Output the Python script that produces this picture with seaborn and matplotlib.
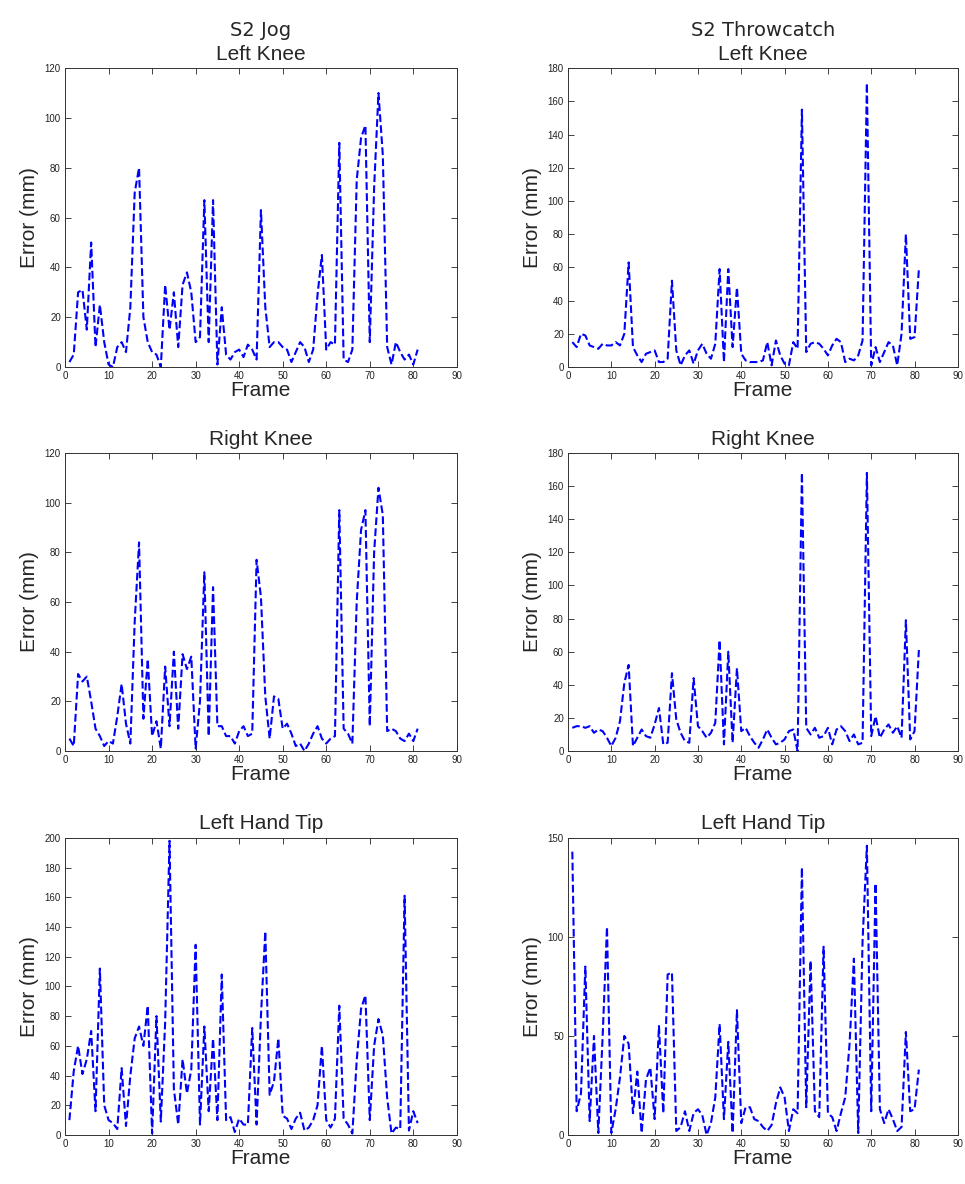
import numpy as np
import pandas as pd
import seaborn as sns
import matplotlib.pyplot as plt

# per-frame joint error (mm), frames 1..81
frames = list(range(1, 82))

jog_left_knee = [2, 5, 30, 31, 15, 50, 8, 25, 10, 1, 0, 8, 10, 6, 24, 70, 80, 20, 10, 6,
                 5, 0, 33, 15, 30, 8, 33, 38, 30, 10, 12, 67, 10, 67, 1, 24, 5, 3, 6, 7,
                 4, 9, 7, 3, 63, 24, 8, 10, 10, 8, 7, 2, 6, 10, 8, 2, 7, 29, 45, 7,
                 10, 9, 90, 3, 2, 7, 75, 92, 97, 10, 72, 110, 85, 8, 1, 10, 6, 3, 5, 1, 7]

throw_left_knee = [15, 12, 20, 19, 13, 12, 11, 14, 13, 13, 15, 13, 20, 63, 12, 7, 3, 8, 9, 10,
                   3, 3, 5, 52, 10, 1, 7, 10, 2, 10, 14, 8, 5, 14, 59, 3, 59, 12, 48, 8,
                   4, 3, 3, 3, 4, 15, 1, 16, 7, 2, 1, 15, 11, 155, 9, 14, 15, 14, 11, 7,
                   13, 17, 15, 3, 5, 4, 7, 16, 171, 1, 12, 3, 9, 15, 13, 1, 20, 80, 17, 18, 59]

jog_right_knee = [5, 2, 31, 28, 30, 20, 9, 6, 2, 4, 3, 14, 27, 11, 3, 52, 84, 13, 37, 6,
                  12, 1, 34, 10, 40, 9, 39, 33, 38, 1, 20, 72, 6, 66, 10, 10, 6, 6, 3, 8,
                  10, 6, 7, 77, 62, 22, 5, 22, 21, 9, 11, 7, 2, 3, 0, 3, 7, 10, 5, 3,
                  5, 6, 97, 9, 7, 3, 60, 89, 97, 10, 80, 106, 95, 8, 9, 8, 5, 4, 7, 4, 9]

throw_right_knee = [14, 15, 15, 14, 15, 11, 13, 12, 8, 3, 8, 18, 41, 52, 3, 8, 13, 9, 8, 16,
                    26, 4, 5, 47, 19, 11, 6, 5, 44, 15, 12, 8, 11, 17, 67, 4, 60, 5, 50, 12,
                    14, 9, 5, 2, 7, 13, 8, 4, 5, 7, 12, 13, 0, 168, 14, 10, 14, 8, 9, 14,
                    4, 13, 15, 12, 6, 10, 4, 5, 168, 9, 21, 8, 13, 16, 11, 15, 8, 79, 7, 12, 61]

jog_left_hand = [10, 43, 60, 41, 51, 70, 16, 112, 20, 10, 8, 4, 45, 6, 40, 65, 73, 60, 87, 1,
                 80, 9, 76, 198, 31, 7, 51, 28, 44, 128, 7, 73, 16, 65, 10, 108, 10, 12, 2, 11,
                 7, 7, 72, 7, 80, 137, 27, 36, 65, 13, 11, 4, 11, 15, 3, 5, 10, 20, 60, 10,
                 5, 11, 87, 11, 7, 1, 50, 85, 94, 10, 60, 78, 67, 25, 1, 5, 4, 161, 3, 16, 8]

throw_left_hand = [143, 12, 21, 85, 7, 50, 1, 50, 105, 1, 13, 29, 50, 46, 11, 32, 1, 28, 34, 8,
                   55, 11, 81, 82, 2, 4, 12, 2, 11, 13, 10, 0, 6, 19, 56, 8, 47, 1, 63, 6,
                   14, 14, 8, 7, 4, 2, 5, 16, 24, 19, 2, 13, 11, 135, 14, 88, 12, 9, 95, 11,
                   9, 2, 11, 19, 46, 89, 1, 98, 146, 12, 127, 13, 6, 13, 8, 2, 4, 52, 12, 13, 33]

headers = ["S2 Jog", "S2 Throwcatch", None, None, None, None]
titles = ["Left Knee", "Left Knee", "Right Knee", "Right Knee",
          "Left Hand Tip", "Left Hand Tip"]
series = [jog_left_knee, throw_left_knee, jog_right_knee,
          throw_right_knee, jog_left_hand, throw_left_hand]
ylims = [(120, 20), (180, 20), (120, 20), (180, 20), (200, 20), (150, 50)]

sns.set_style("ticks")
plt.rcParams['font.family'] = ['Liberation Sans', 'DejaVu Sans']

fig = plt.figure(figsize=(9.65, 11.84), dpi=100)

# axes boxes in figure fractions (left, bottom, width, height)
lefts = [0.0674, 0.5886]
widths = [0.406, 0.404]
bottoms = [0.690, 0.3657, 0.0414]
heights = [0.2525, 0.2517, 0.251]

for i, (vals, title, (ymax, ystep)) in enumerate(zip(series, titles, ylims)):
    r, c = divmod(i, 2)
    ax = fig.add_axes([lefts[c], bottoms[r], widths[c], heights[r]])
    df = pd.DataFrame({"Frame": frames, "Error": vals})
    sns.lineplot(data=df, x="Frame", y="Error", ax=ax, color="blue",
                 linestyle="--", linewidth=1.5)
    ax.set_xlim(0, 90)
    ax.set_ylim(0, ymax)
    ax.set_xticks(np.arange(0, 91, 10))
    ax.set_yticks(np.arange(0, ymax + 1, ystep))
    ax.tick_params(direction="in", top=True, right=True, length=4,
                   width=0.6, labelsize=7, colors="#222222", pad=3)
    for s in ax.spines.values():
        s.set_visible(True)
        s.set_linewidth(0.7)
        s.set_color("#333333")
    ax.set_xlabel("Frame", fontsize=15, labelpad=0)
    ax.set_ylabel("Error (mm)", fontsize=15, labelpad=4)
    ax.set_title(title, fontsize=15, pad=6)
    if headers[i]:
        # the dataset header line sits above the joint name
        ax.text(0.5, 1.095, headers[i], transform=ax.transAxes, ha="center",
                va="bottom", fontsize=14, family=["DejaVu Sans"])

fig.savefig("out.png", dpi=100, facecolor="white")
